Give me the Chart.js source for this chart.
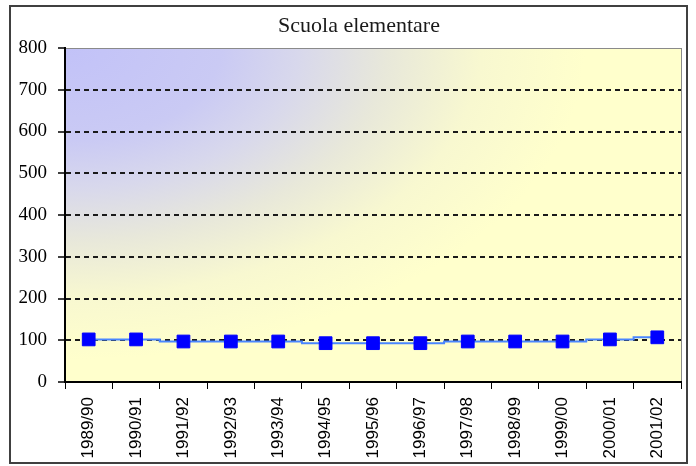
<!DOCTYPE html>
<html>
<head>
<meta charset="utf-8">
<script src="https://cdn.jsdelivr.net/npm/chart.js@4/dist/chart.umd.min.js"></script>
<style>
  html, body { margin: 0; padding: 0; background: #fff; }
  #wrap { width: 696px; height: 466px; }
</style>
</head>
<body>
<div id="wrap"><canvas id="Grafica" width="696" height="466"></canvas></div>
<script>
// dati
const titolo = 'Scuola elementare';
const anni = ['1989/90', '1990/91', '1991/92', '1992/93', '1993/94', '1994/95', '1995/96',
              '1996/97', '1997/98', '1998/99', '1999/00', '2000/01', '2001/02'];
const valori = [102, 102, 97, 97, 97, 93, 93, 93, 97, 97, 97, 102, 107];
const yMin = 0;
const yMax = 800;
const yPasso = 100;

// sfondo sfumato dell'area del grafico + cornice
const sfondo = {
	id: 'sfondo',
	beforeDraw(chart) {
		const ctx = chart.ctx;
		const a = chart.chartArea;
		ctx.save();
		ctx.fillStyle = '#ffffff';
		ctx.fillRect(0, 0, chart.width, chart.height);
		ctx.translate(a.left, a.top);
		ctx.scale(1, 0.6);
		const g = ctx.createRadialGradient(0, 0, 0, 0, 0, 520);
		g.addColorStop(0, '#c2c2f8');
		g.addColorStop(0.3, '#cacaf4');
		g.addColorStop(0.45, '#d8d8ec');
		g.addColorStop(0.62, '#e8e8da');
		g.addColorStop(0.8, '#f8f8d0');
		g.addColorStop(1, '#ffffcc');
		ctx.fillStyle = g;
		ctx.fillRect(0, 0, a.right - a.left, (a.bottom - a.top) / 0.6);
		ctx.restore();
		ctx.save();
		ctx.strokeStyle = '#8a8a8a';
		ctx.lineWidth = 1;
		ctx.strokeRect(a.left + 0.5, a.top + 0.5, a.right - a.left, a.bottom - a.top);
		ctx.restore();
	},
	afterDraw(chart) {
		const ctx = chart.ctx;
		ctx.save();
		ctx.strokeStyle = '#404040';
		ctx.lineWidth = 2;
		ctx.strokeRect(10, 6, 677, 457);
		ctx.fillStyle = '#1a1a1a';
		ctx.font = '22px "Liberation Serif"';
		ctx.textAlign = 'center';
		ctx.textBaseline = 'middle';
		ctx.fillText(titolo, 359, 26);
		ctx.restore();
	}
};

var ctx = document.querySelector('#Grafica').getContext('2d');
var myChart = new Chart(ctx, {
	type: 'line',
	data: {
		labels: anni,
		datasets: [{
			label: titolo,
			data: valori,
			stepped: 'middle',
			borderColor: '#4a86ff',
			borderWidth: 2,
			pointStyle: 'rect',
			pointRadius: 9,
			pointBackgroundColor: '#0000ff',
			pointBorderColor: '#0000ff',
			pointBorderWidth: 1
		}]
	},
	options: {
		responsive: false,
		animation: false,
		devicePixelRatio: 1,
		layout: { padding: { left: 10, right: 15, top: 48, bottom: 0 } },
		plugins: {
			legend: { display: false },
			title: { display: false },
			tooltip: { enabled: false }
		},
		scales: {
			x: {
				type: 'category',
				offset: true,
				grid: {
					offset: true,
					drawOnChartArea: false,
					drawTicks: true,
					tickLength: 7,
					tickColor: '#000'
				},
				border: { color: '#000', width: 2 },
				ticks: {
					autoSkip: false,
					minRotation: 90,
					maxRotation: 90,
					padding: 8,
					color: '#000',
					font: { family: '"Liberation Sans"', size: 17 }
				},
				afterFit(axis) { axis.height = 84; }
			},
			y: {
				min: yMin,
				max: yMax,
				ticks: {
					stepSize: yPasso,
					padding: 11,
					color: '#000',
					font: { family: '"Liberation Serif"', size: 19 }
				},
				grid: {
					color: (c) => (c.tick && (c.tick.value === yMin || c.tick.value === yMax)) ? 'rgba(0,0,0,0)' : '#1a1a1a',
					lineWidth: 2,
					tickLength: 7,
					tickColor: '#000',
					tickBorderDash: [],
					tickWidth: 1.5
				},
				border: { color: '#000', width: 2, dash: [5, 4] },
				afterFit(axis) { axis.width = 55; }
			}
		}
	},
	plugins: [sfondo]
});
</script>
</body>
</html>
